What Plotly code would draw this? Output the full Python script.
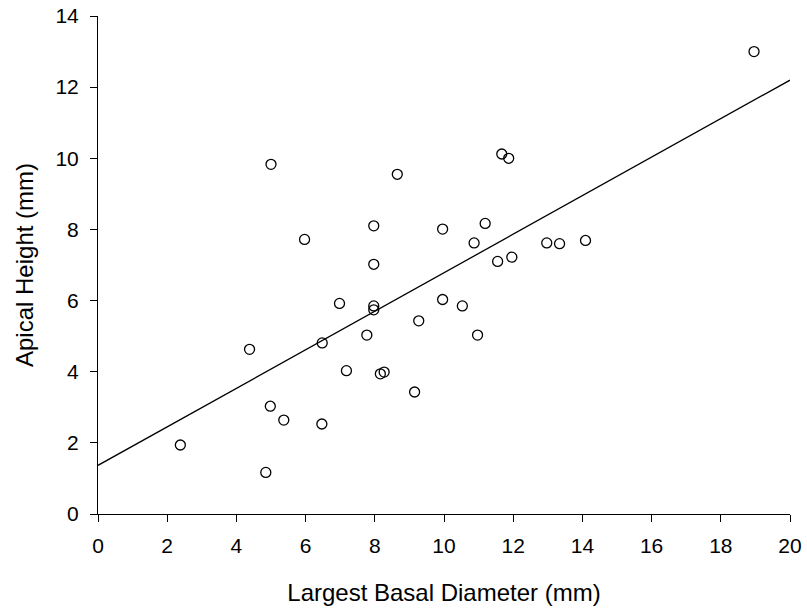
import numpy as np
import plotly.graph_objects as go

basal_diameter = [2.38, 4.38, 4.85, 4.98, 5.00, 5.37, 5.97, 6.48, 6.47, 6.98,
                  7.18, 7.77, 7.97, 7.97, 7.97, 7.97, 8.16, 8.27, 8.65, 9.15,
                  9.27, 9.96, 9.96, 10.53, 10.87, 10.97, 11.19, 11.55, 11.67, 11.87,
                  11.96, 12.97, 13.34, 14.09, 18.96]
apical_height = [1.94, 4.63, 1.17, 3.03, 9.83, 2.64, 7.72, 4.81, 2.53, 5.92,
                 4.03, 5.03, 8.10, 7.02, 5.85, 5.74, 3.94, 3.99, 9.55, 3.43,
                 5.43, 8.01, 6.03, 5.85, 7.62, 5.03, 8.17, 7.10, 10.12, 10.00,
                 7.22, 7.62, 7.60, 7.69, 13.00]

x_ticks = [0, 2, 4, 6, 8, 10, 12, 14, 16, 18, 20]
y_ticks = [0, 2, 4, 6, 8, 10, 12, 14]

slope, intercept = np.polyfit(basal_diameter, apical_height, 1)
fit_x = np.array([0, 20])
fit_y = intercept + slope * fit_x

FONT = "Liberation Sans, Arial, sans-serif"
tick_font = dict(family=FONT, size=21, color="black")
title_font = dict(family=FONT, size=24, color="black")

fig = go.Figure()
fig.add_trace(go.Scatter(x=fit_x, y=fit_y, mode="lines",
                         line=dict(color="black", width=1.3), showlegend=False))
fig.add_trace(go.Scatter(x=basal_diameter, y=apical_height, mode="markers",
                         marker=dict(symbol="circle-open", size=10, color="black",
                                     line=dict(width=1.3, color="black")),
                         showlegend=False))

fig.update_layout(
    width=807, height=612,
    margin=dict(l=98, r=17, t=16, b=98),
    paper_bgcolor="white", plot_bgcolor="white",
    font=tick_font,
    xaxis=dict(range=[0, 20], tickvals=x_ticks, ticks="outside", ticklen=7,
               tickwidth=1, tickcolor="black", showline=True, linecolor="black",
               linewidth=1, showgrid=False, zeroline=False, tickfont=tick_font,
               ticklabelstandoff=6, automargin=False, ticklabeloverflow="allow",
               title=dict(text="Largest Basal Diameter (mm)", font=title_font,
                          standoff=27)),
    yaxis=dict(range=[0, 14], tickvals=y_ticks, ticks="outside", ticklen=7,
               tickwidth=1, tickcolor="black", showline=True, linecolor="black",
               linewidth=1, showgrid=False, zeroline=False, tickfont=tick_font,
               ticklabelstandoff=7, automargin=False, ticklabeloverflow="allow",
               title=dict(text="Apical Height (mm)", font=title_font,
                          standoff=15)),
)
fig.write_html("out.html", config={"displayModeBar": False},
               post_script="document.body.style.margin='0';")
